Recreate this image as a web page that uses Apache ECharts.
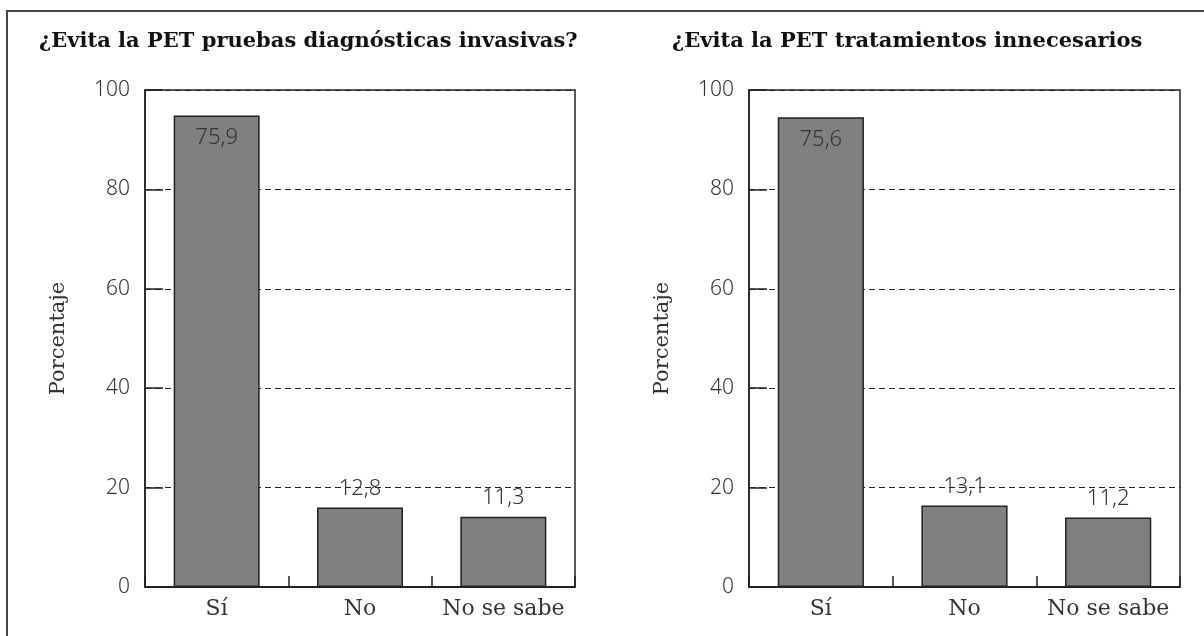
<!DOCTYPE html>
<html>
<head>
<meta charset="utf-8">
<script src="https://cdn.jsdelivr.net/npm/echarts@6/dist/echarts.min.js"></script>
<style>
  html, body { margin: 0; padding: 0; background: #fff; }
  #chart { width: 1204px; height: 636px; }
</style>
</head>
<body>
<div id="chart"></div>
<script>
// Survey answers, percent of respondents
const categories = ['Sí', 'No', 'No se sabe'];
const titles = [
  '¿Evita la PET pruebas diagnósticas invasivas?',
  '¿Evita la PET tratamientos innecesarios'
];
const pruebasValues = [75.9, 12.8, 11.3];
const tratamientosValues = [75.6, 13.1, 11.2];
const yTickLabels = ['0', '20', '40', '60', '80', '100'];
const yAxisName = 'Porcentaje';

const SERIF = '"DejaVu Serif", "Liberation Serif", serif';
const SANS = '"Noto Sans", "Open Sans", Lato, sans-serif';
const INK = '#222';

// Scale step between consecutive tick labels
const STEP = 16;
const fmtValue = v => v.toFixed(1).replace('.', ',');

function barData(values) {
  return values.map((v, i) => ({
    value: v,
    label: i === 0
      ? { position: 'insideTop', distance: 11 }
      : { position: 'top', distance: 8 }
  }));
}

function xAxis(gridIndex) {
  return {
    type: 'category', gridIndex, data: categories,
    axisLine: { lineStyle: { color: INK, width: 2 } },
    axisTick: { show: true, inside: true, length: 11, interval: 0, lineStyle: { color: INK, width: 1.5 } },
    axisLabel: { color: '#333', fontFamily: SERIF, fontSize: 22, margin: 11, interval: 0, hideOverlap: false }
  };
}

function yAxis(gridIndex) {
  return {
    type: 'value', gridIndex, min: 0, max: STEP * (yTickLabels.length - 1), interval: STEP,
    name: yAxisName, nameLocation: 'middle', nameGap: 76, nameRotate: 90,
    nameTextStyle: { color: '#333', fontFamily: SERIF, fontSize: 21 },
    axisLine: { show: true, lineStyle: { color: INK, width: 1.5 } },
    axisTick: { show: true, inside: true, length: 18, lineStyle: { color: INK, width: 1.5 } },
    axisLabel: {
      color: '#333', fontFamily: SANS, fontWeight: 300, fontSize: 21, margin: 15,
      formatter: v => yTickLabels[Math.round(v / STEP)]
    },
    splitLine: { show: true, lineStyle: { color: INK, width: 1, type: [6, 4] } }
  };
}

function barSeries(idx, values) {
  return {
    type: 'bar', xAxisIndex: idx, yAxisIndex: idx,
    data: barData(values), barCategoryGap: '40%',
    itemStyle: { color: '#808080', borderColor: INK, borderWidth: 1.5 },
    label: {
      show: true, color: '#333', fontFamily: SANS, fontWeight: 300, fontSize: 22,
      formatter: p => fmtValue(p.value)
    },
    silent: true
  };
}

const chart = echarts.init(document.getElementById('chart'), null, { renderer: 'canvas' });
chart.setOption({
  animation: false,
  backgroundColor: '#fff',
  title: [
    { text: titles[0], left: 34, top: 26,
      textStyle: { fontFamily: SERIF, fontWeight: 'bold', fontSize: 21, color: '#111' } },
    { text: titles[1], left: 667, top: 26,
      textStyle: { fontFamily: SERIF, fontWeight: 'bold', fontSize: 21, color: '#111' } }
  ],
  grid: [
    { left: 145, top: 90, width: 430, height: 497, show: true, borderColor: INK, borderWidth: 1.5, backgroundColor: 'transparent' },
    { left: 749, top: 90, width: 431, height: 497, show: true, borderColor: INK, borderWidth: 1.5, backgroundColor: 'transparent' }
  ],
  xAxis: [xAxis(0), xAxis(1)],
  yAxis: [yAxis(0), yAxis(1)],
  series: [barSeries(0, pruebasValues), barSeries(1, tratamientosValues)],
  graphic: [
    { type: 'polyline', shape: { points: [[7, 640], [7, 11], [1210, 11]] },
      style: { stroke: '#444', lineWidth: 2, fill: null }, silent: true }
  ]
});
</script>
</body>
</html>
